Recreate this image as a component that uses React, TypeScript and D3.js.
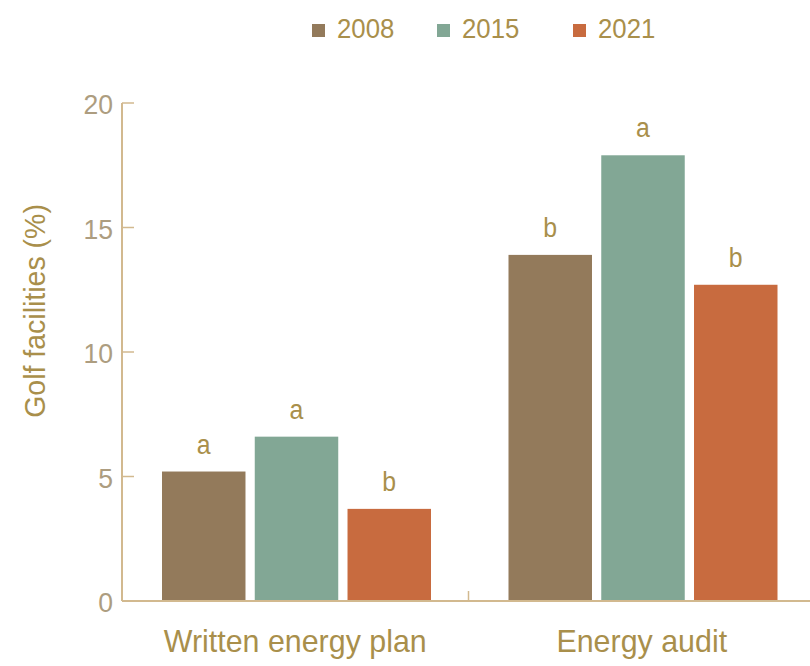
import React from "react";
import * as d3 from "d3";

const categories = ["Written energy plan", "Energy audit"];
const years = ["2008", "2015", "2021"];
const values2008 = [5.2, 13.9];
const values2015 = [6.6, 17.9];
const values2021 = [3.7, 12.7];
const letters2008 = ["a", "b"];
const letters2015 = ["a", "a"];
const letters2021 = ["b", "b"];
const yTicks = [0, 5, 10, 15, 20];

const colors = ["#937a5b", "#82a795", "#c86b3f"];
const textColor = "#a98f4b";
const tickColor = "#ad9d80";
const axisColor = "#d2b98f";
const FONT = "'Liberation Sans', Arial, sans-serif";

function T({ x, y, size, anchor = "start", sx = 0.92, fill = textColor, children }: any) {
  return (
    <g transform={`translate(${x},${y}) scale(${sx},1)`}>
      <text x={0} y={0} textAnchor={anchor} fontFamily={FONT} fontSize={size} fill={fill}>{children}</text>
    </g>
  );
}

export default function App() {
  const W = 810, H = 666;
  const x0 = 122, x1 = 815;
  const y = d3.scaleLinear().domain([0, 20]).range([601, 103]);
  const gx = d3.scaleBand<string>().domain(categories).range([x0, x1]).padding(0);
  const ix = d3.scaleBand<string>().domain(years).range([40, 309]).paddingInner(0.1).paddingOuter(0);
  const series = [values2008, values2015, values2021];
  const letters = [letters2008, letters2015, letters2021];
  const legendX = [312, 437, 573];

  return (
    <svg width={W} height={H} style={{ position: "absolute", left: 0, top: 0, background: "#fff" }}>
      {/* legend */}
      {years.map((yr, i) => (
        <g key={yr}>
          <rect x={legendX[i]} y={24} width={13} height={13} fill={colors[i]} />
          <T x={legendX[i] + 25} y={38} size={28}>{yr}</T>
        </g>
      ))}
      {/* bars */}
      {categories.map((c, ci) => (
        <g key={c} transform={`translate(${gx(c)},0)`}>
          {years.map((yr, si) => {
            const v = series[si][ci];
            const bx = ix(yr)!;
            const bw = ix.bandwidth();
            return (
              <g key={yr}>
                <rect x={bx} y={y(v)} width={bw} height={y(0) - y(v)} fill={colors[si]} />
                <T x={bx + bw / 2} y={y(v) - 18} size={27} anchor="middle">{letters[si][ci]}</T>
              </g>
            );
          })}
          <T x={gx.bandwidth() / 2} y={652} size={32} anchor="middle" sx={0.95}>{c}</T>
        </g>
      ))}
      {/* y axis */}
      <line x1={x0} x2={x0} y1={y(20)} y2={y(0)} stroke={axisColor} strokeWidth={2} />
      {yTicks.map((t) => (
        <g key={t}>
          <line x1={x0} x2={x0 + 12} y1={y(t)} y2={y(t)} stroke={axisColor} strokeWidth={1.5} />
          <T x={x0 - 9} y={y(t) + 11} size={28} anchor="end" fill={tickColor} sx={0.95}>{t}</T>
        </g>
      ))}
      {/* x axis */}
      <line x1={x0} x2={W} y1={y(0)} y2={y(0)} stroke={axisColor} strokeWidth={2} />
      <line x1={gx(categories[1])!} x2={gx(categories[1])!} y1={y(0)} y2={y(0) - 10} stroke={axisColor} strokeWidth={1.5} />
      {/* y label */}
      <g transform="translate(45,311) rotate(-90)">
        <g transform="scale(0.95,1)">
          <text x={0} y={0} textAnchor="middle" fontFamily={FONT} fontSize={30} fill={textColor}>Golf facilities (%)</text>
        </g>
      </g>
    </svg>
  );
}
